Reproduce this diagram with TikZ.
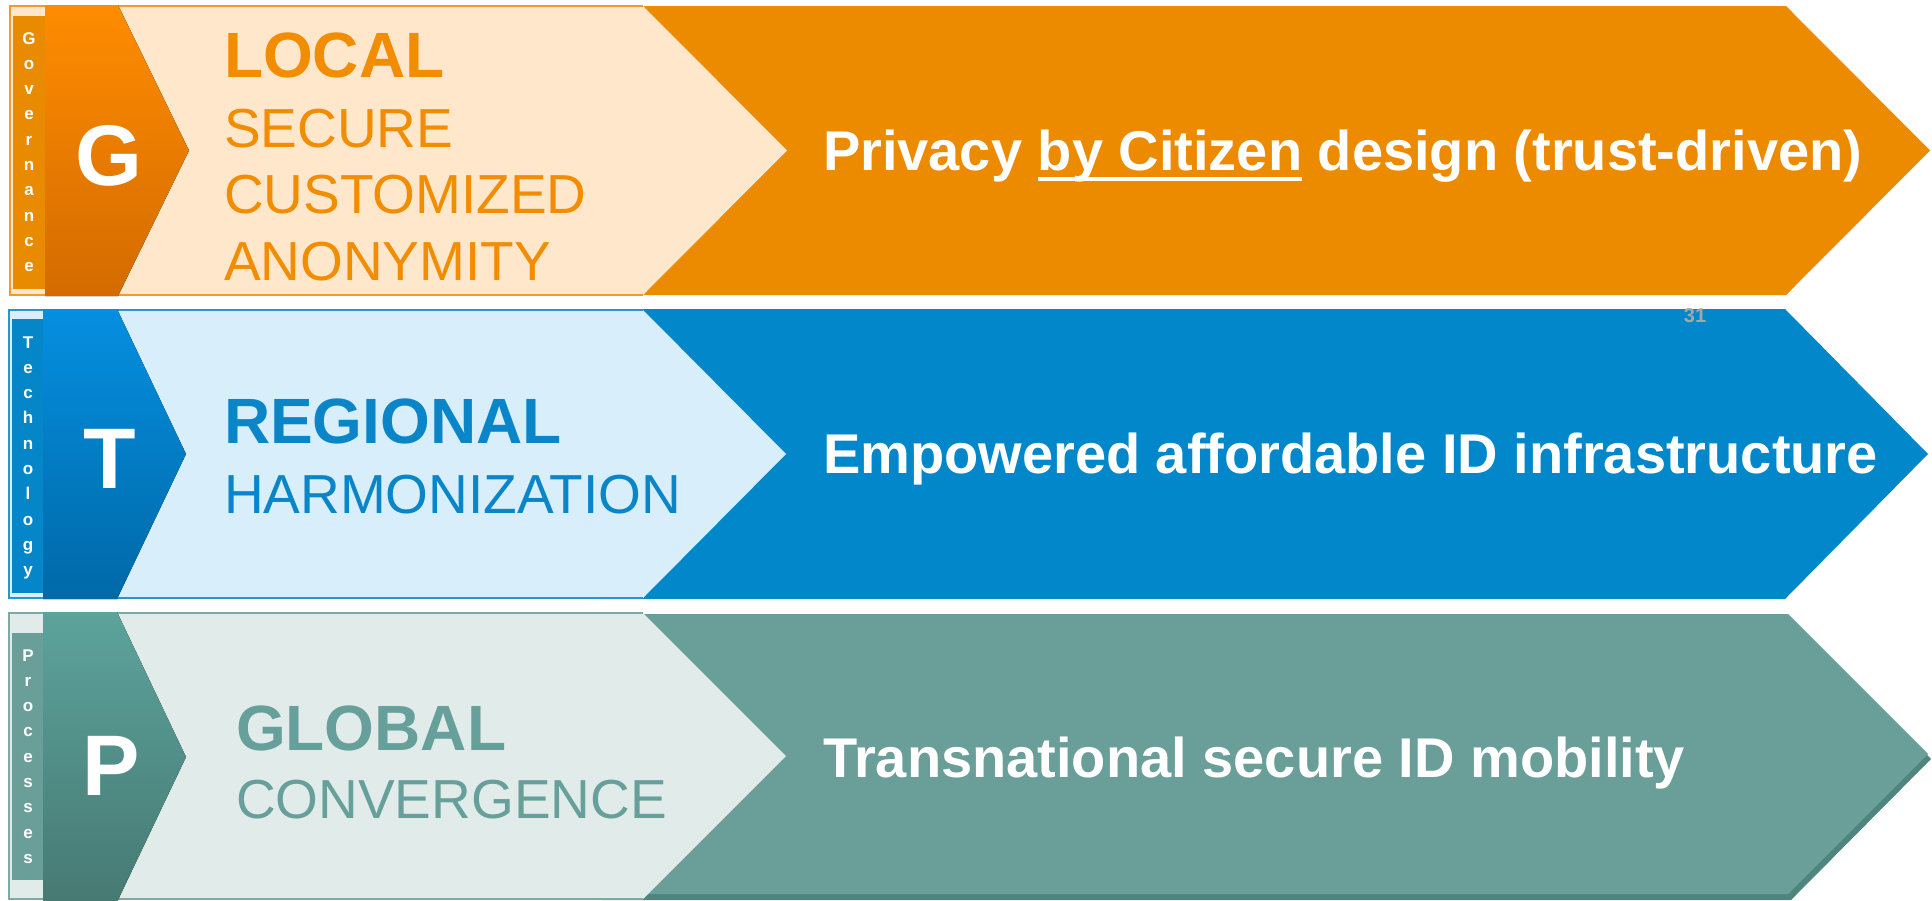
\documentclass[tikz,border=0pt]{standalone}
\usepackage{fontspec}
\setmainfont{Liberation Sans}
\definecolor{orA}{HTML}{EC8A00}
\definecolor{orL}{HTML}{FFE7CB}
\definecolor{orB}{HTML}{F39A2E}
\definecolor{orBar}{HTML}{E98B00}
\definecolor{orT}{HTML}{FF8C00}
\definecolor{orD}{HTML}{D36B00}
\definecolor{orTxt}{HTML}{F28C00}
\definecolor{blA}{HTML}{0288CA}
\definecolor{blL}{HTML}{D8EFFB}
\definecolor{blB}{HTML}{2A93D1}
\definecolor{blBar}{HTML}{0486C8}
\definecolor{blT}{HTML}{058FE0}
\definecolor{blD}{HTML}{0069A8}
\definecolor{blTxt}{HTML}{0A86C8}
\definecolor{tlA}{HTML}{6A9E99}
\definecolor{tlL}{HTML}{E1ECEA}
\definecolor{tlB}{HTML}{7DAAA5}
\definecolor{tlBar}{HTML}{6A9E99}
\definecolor{tlT}{HTML}{5CA39C}
\definecolor{tlD}{HTML}{467A73}
\definecolor{tlTxt}{HTML}{67A09A}
\definecolor{tlS}{HTML}{4F857F}
\definecolor{pgnum}{HTML}{A6A6A6}
\newcommand{\citeul}[1]{{\setbox0\hbox{#1}\rlap{\rule[-11pt]{\wd0}{4.5pt}}\box0}}
\begin{document}
\begin{tikzpicture}[x=1pt,y=-1pt,inner sep=0pt,outer sep=0pt,
  bigtxt/.style={text=white,font=\bfseries\fontsize{56}{60}\selectfont,anchor=base west},
  lettr/.style={text=white,font=\bfseries\fontsize{86}{90}\selectfont,anchor=base},
  vlet/.style={text=white,font=\bfseries\fontsize{17}{20}\selectfont,anchor=base},
  boldm/.style={font=\bfseries\fontsize{64}{70}\selectfont,anchor=base west},
  regm/.style={font=\fontsize{55}{66}\selectfont,anchor=base west},
  frame/.style={line width=2pt,line join=miter}]
\useasboundingbox (0,0) rectangle (1932,900);
\fill[white] (0,0) rectangle (1932,900);

% ---------------- Row 1 : Governance ----------------
\fill[orA] (600,6) -- (1786,6) -- (1930,150.5) -- (1786,295) -- (600,295) -- cycle;
\fill[orL] (10,6) -- (643,6) -- (787,150.5) -- (643,295) -- (10,295) -- cycle;
\draw[frame,orB] (643,6) -- (10,6) -- (10,295) -- (643,295);
\fill[orBar] (13,16) rectangle (45,289);
\fill[top color=orT,bottom color=orD] (45,5) -- (118,5) -- (189,150.5) -- (118,296) -- (45,296) -- cycle;
\foreach \c [count=\i from 0] in {G,o,v,e,r,n,a,n,c,e}
  \node[vlet,name=g\i] at (29,44+25.3*\i) {\c};
\node[lettr] (G) at (109,185) {G};
\node[boldm,text=orTxt] (local) at (224,77) {LOCAL};
\node[regm,text=orTxt] (secure) at (224,147) {SECURE};
\node[regm,text=orTxt] (custom) at (224,213) {CUSTOMIZED};
\node[regm,text=orTxt] (anon) at (224,280) {ANONYMITY};
\node[bigtxt] (privacy) at (823,170) {Privacy \citeul{by Citizen} design (trust-driven)};

% ---------------- Row 2 : Technology ----------------
\fill[blA] (600,309) -- (1785,309) -- (1928,454) -- (1785,599) -- (600,599) -- cycle;
\fill[blL] (9,310) -- (643,310) -- (786,454) -- (643,598) -- (9,598) -- cycle;
\draw[frame,blB] (643,310) -- (9,310) -- (9,598) -- (643,598);
\fill[blBar] (12,319) rectangle (43,593);
\fill[top color=blT,bottom color=blD] (43,309) -- (117,309) -- (186,454) -- (117,599) -- (43,599) -- cycle;
\foreach \c [count=\i from 0] in {T,e,c,h,n,o,l,o,g,y}
  \node[vlet,name=t\i] at (28,348+25.3*\i) {\c};
\node[lettr] (T) at (110,488) {T};
\node[boldm,text=blTxt] (regional) at (224,443) {REGIONAL};
\node[regm,text=blTxt] (harmon) at (224,513) {HARMONIZATION};
\node[bigtxt] (empower) at (823,473) {Empowered affordable ID infrastructure};
\node[text=pgnum,font=\bfseries\fontsize{20}{22}\selectfont] (pg) at (1695,316) {31};

% ---------------- Row 3 : Processes ----------------
\fill[tlS] (602,619) -- (1791,619) -- (1931,759) -- (1791,900) -- (602,900) -- cycle;
\fill[tlA] (600,614) -- (1788,614) -- (1928,754) -- (1788,894) -- (600,894) -- cycle;
\fill[tlL] (9,613) -- (643,613) -- (786,756) -- (643,899) -- (9,899) -- cycle;
\draw[frame,tlB] (643,613) -- (9,613) -- (9,899) -- (643,899);
\fill[tlBar] (12,633) rectangle (43,880);
\fill[top color=tlT,bottom color=tlD] (43,612) -- (117,612) -- (186,757) -- (117,902) -- (43,902) -- cycle;
\foreach \c [count=\i from 0] in {P,r,o,c,e,s,s,e,s}
  \node[vlet,name=p\i] at (28,661+25.3*\i) {\c};
\node[lettr] (P) at (111,795) {P};
\node[boldm,text=tlTxt] (global) at (236,750) {GLOBAL};
\node[regm,text=tlTxt] (converg) at (236,818) {CONVERGENCE};
\node[bigtxt] (trans) at (823,777) {Transnational secure ID mobility};
\end{tikzpicture}
\end{document}
